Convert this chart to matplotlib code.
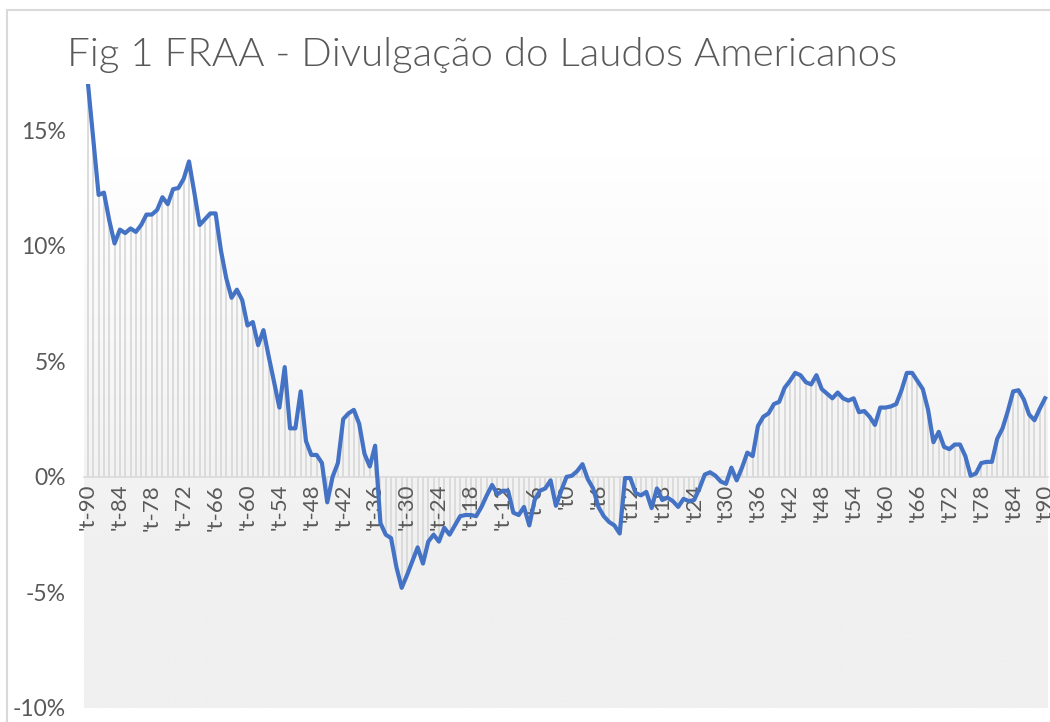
import numpy as np
import matplotlib.pyplot as plt
from matplotlib.colors import LinearSegmentedColormap
from matplotlib.ticker import FuncFormatter

# =========================
# DATA (percent)
# =========================
periods = list(range(-90, 91))
fraa = [
    17.0, 14.6, 12.2, 12.3, 11.1, 10.1, 10.7, 10.55, 10.75, 10.6,
    10.9, 11.35, 11.35, 11.55, 12.1, 11.8, 12.45, 12.5, 12.9, 13.65,
    12.3, 10.9, 11.15, 11.4, 11.4, 9.8, 8.6, 7.75, 8.1, 7.65,
    6.55, 6.7, 5.7, 6.35, 5.2, 4.1, 3.0, 4.75, 2.1, 2.1,
    3.7, 1.55, 0.95, 0.95, 0.6, -1.1, 0.0, 0.6, 2.5, 2.75,
    2.9, 2.3, 1.0, 0.45, 1.35, -2.0, -2.5, -2.65, -3.9, -4.8,
    -4.25, -3.65, -3.05, -3.75, -2.8, -2.5, -2.8, -2.2, -2.5, -2.1,
    -1.7, -1.65, -1.65, -1.7, -1.3, -0.8, -0.35, -0.75, -0.6, -0.6,
    -1.55, -1.65, -1.3, -2.1, -1.0, -0.6, -0.5, -0.15, -1.25, -0.6,
    0.0, 0.05, 0.25, 0.55, -0.1, -0.5, -1.3, -1.7, -1.95, -2.1,
    -2.45, -0.05, -0.05, -0.7, -0.8, -0.65, -1.35, -0.5, -1.0, -0.9,
    -1.05, -1.3, -0.95, -1.05, -1.0, -0.5, 0.1, 0.2, 0.05, -0.2,
    -0.3, 0.4, -0.15, 0.4, 1.05, 0.9, 2.2, 2.6, 2.75, 3.15,
    3.25, 3.85, 4.15, 4.5, 4.4, 4.1, 4.0, 4.4, 3.8, 3.6,
    3.4, 3.65, 3.4, 3.3, 3.4, 2.8, 2.85, 2.6, 2.25, 3.0,
    3.0, 3.05, 3.15, 3.75, 4.5, 4.5, 4.15, 3.8, 2.9, 1.5,
    1.95, 1.3, 1.2, 1.4, 1.4, 0.9, 0.05, 0.15, 0.6, 0.65,
    0.65, 1.65, 2.1, 2.85, 3.7, 3.75, 3.35, 2.7, 2.45, 2.95,
    3.4,
]
tick_periods = list(range(-90, 91, 6))
tick_labels = [f"'t{p}" for p in tick_periods]
y_ticks = [-10, -5, 0, 5, 10, 15]

title = "Fig 1 FRAA - Divulgação do Laudos Americanos"

# =========================
# FIGURE
# =========================
plt.rcParams['font.family'] = ['Lato', 'DejaVu Sans']
txt_col = "#595959"

fig = plt.figure(figsize=(10.5, 7.22), dpi=100)
ax = fig.add_axes([84 / 1050, 14 / 722, (1048 - 84) / 1050, (708 - 84) / 722])

y_min, y_max = -10, 17
x_min, x_max = -90.75, 90.55
ax.set_xlim(x_min, x_max)
ax.set_ylim(y_min, y_max)

# gradient background of the plot area
grad_cmap = LinearSegmentedColormap.from_list("bg", ["#ffffff", "#f0f0f0"])
ys = np.linspace(y_max, y_min, 400)
g = np.clip((14 - ys) / (14 - (-3.5)), 0, 1)
ax.imshow(g[:, None], cmap=grad_cmap, vmin=0, vmax=1, aspect="auto",
          extent=[x_min, x_max, y_min, y_max], zorder=0, interpolation="bilinear")

# drop lines + line
ax.vlines(periods, 0, fraa, color="#d9d9d9", lw=1.3, zorder=1)
ax.plot(periods, fraa, color="#4472c4", lw=3.0, zorder=3,
        solid_joinstyle="round", clip_on=True)

# axes styling
for s in ["top", "right", "left"]:
    ax.spines[s].set_visible(False)
ax.spines["bottom"].set_position(("data", 0))
ax.spines["bottom"].set_color("#d9d9d9")
ax.spines["bottom"].set_linewidth(1.2)
ax.spines["bottom"].set_zorder(2)

ax.set_xticks(tick_periods)
ax.set_xticklabels(tick_labels, rotation=90, color=txt_col, fontsize=16)
ax.tick_params(axis="x", length=0, pad=5)
ax.set_yticks(y_ticks)
ax.yaxis.set_major_formatter(FuncFormatter(lambda v, p: f"{v:.0f}%"))
ax.tick_params(axis="y", length=0, pad=13, labelcolor=txt_col, labelsize=16.5)

# chart border (left / top)
fig.add_artist(plt.Line2D([7 / 1050, 7 / 1050], [0, 1 - 10 / 722],
                          color="#d9d9d9", lw=1.5))
fig.add_artist(plt.Line2D([7 / 1050, 1], [1 - 10 / 722, 1 - 10 / 722],
                          color="#d9d9d9", lw=1.5))

fig.text(482 / 1050, 1 - 55 / 722, title, ha="center", va="center",
         fontsize=29, color="#595959", fontweight=300)

fig.savefig("out.png", dpi=100)
